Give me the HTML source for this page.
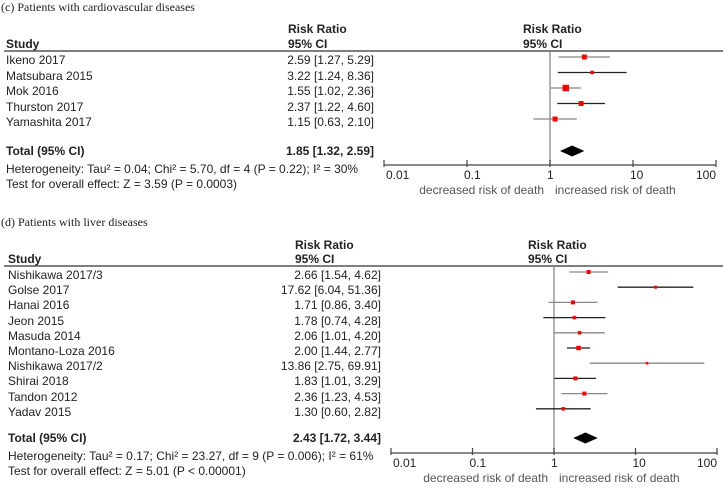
<!DOCTYPE html>
<html><head><meta charset="utf-8"><style>
body{margin:0;background:#fff;}
#root{position:relative;width:723px;height:491px;overflow:hidden;font-family:"Liberation Sans",Arial,sans-serif;color:#222;}
.t{position:absolute;font-size:12px;white-space:nowrap;line-height:12px;}
.b{font-weight:bold;}
.r{text-align:right;}
.ttl{position:absolute;font-family:"Liberation Serif",serif;font-size:12px;white-space:nowrap;}
svg{position:absolute;left:0;top:0;}
</style></head><body>
<div id="root">
<svg id="plot" width="723" height="491"></svg>
</div>
<script>
// Panel C data
const studiesC = ["Ikeno 2017","Matsubara 2015","Mok 2016","Thurston 2017","Yamashita 2017"];
const rrC = [2.59,3.22,1.55,2.37,1.15];
const loC = [1.27,1.24,1.02,1.22,0.63];
const hiC = [5.29,8.36,2.36,4.60,2.10];
const wC = [5,3.5,6.5,5,5];
const totalC = [1.85,1.32,2.59];
// Panel D data
const studiesD = ["Nishikawa 2017/3","Golse 2017","Hanai 2016","Jeon 2015","Masuda 2014","Montano-Loza 2016","Nishikawa 2017/2","Shirai 2018","Tandon 2012","Yadav 2015"];
const rrD = [2.66,17.62,1.71,1.78,2.06,2.00,13.86,1.83,2.36,1.30];
const loD = [1.54,6.04,0.86,0.74,1.01,1.44,2.75,1.01,1.23,0.60];
const hiD = [4.62,51.36,3.40,4.28,4.20,2.77,69.91,3.29,4.53,2.82];
const wD = [4,3,4,3.5,3.5,4.5,2.5,4,4,3.5];
const totalD = [2.43,1.72,3.44];
const ticks = [0.01,0.1,1,10,100];
const tickLabels = ["0.01","0.1","1","10","100"];

const root=document.getElementById('root');
const svg=document.getElementById('plot');
const NS="http://www.w3.org/2000/svg";
function fmt(v){return v.toFixed(2);}
function txt(s,x,y,cls,name,right){
  const d=document.createElement('div');
  d.className='t '+(cls||'');
  d.textContent=s;
  if(right){d.style.right=(723-x)+'px';}else{d.style.left=x+'px';}
  d.style.top=(y-6)+'px';
  
  
  root.appendChild(d);
  return d;
}
function el(tag,attrs,name){
  const e=document.createElementNS(NS,tag);
  for(const k in attrs)e.setAttribute(k,attrs[k]);
  
  
  svg.appendChild(e);return e;
}
function panel(p){
  const xs=v=>p.x0+(Math.log10(v)+2)*(p.x1-p.x0)/4;
  const t=document.createElement('div');t.className='ttl';t.style.left='1px';t.style.top=(p.title_y-7)+'px';t.textContent=p.title;
  
  
  root.appendChild(t);
  txt("Risk Ratio",p.vx-86,p.hy1,'b','value-header');
  txt("95% CI",p.vx-86,p.hy2,'b','value-header-ci');
  txt("Study",p.sx,p.hy2,'b','study-header');
  txt("Risk Ratio",p.rx,p.hy1,'b','plot-header');
  txt("95% CI",p.rx,p.hy2,'b','plot-header-ci');
  el('line',{x1:4,x2:723,y1:p.line,y2:p.line,stroke:'#555','stroke-width':1.5},'header-rule');
  el('line',{x1:xs(1),x2:xs(1),y1:p.line,y2:p.axis,stroke:'#888','stroke-width':1.3},'null-line');
  p.studies.forEach((s,i)=>{
    const y=p.r0+i*p.dy;
    txt(s,p.sx,y+3,'','study-label');
    txt(fmt(p.rr[i])+" ["+fmt(p.lo[i])+", "+fmt(p.hi[i])+"]",p.vx,y+3,'','study-value',true);
    el('line',{x1:xs(p.lo[i]),x2:xs(p.hi[i]),y1:y,y2:y,stroke:i%2?'#222':'#888','stroke-width':1.3},'ci-line');
    const w=p.w[i];
    el('rect',{x:xs(p.rr[i])-w/2,y:y-w/2,width:w,height:w,fill:'#f00'},'study-marker');
  });
  txt("Total (95% CI)",p.sx,p.ty,'b','total-label');
  txt(fmt(p.total[0])+" ["+fmt(p.total[1])+", "+fmt(p.total[2])+"]",p.vx,p.ty,'b','total-value',true);
  const cy=p.ty;
  el('polygon',{points:`${xs(p.total[1])},${cy} ${xs(p.total[0])},${cy-5.5} ${xs(p.total[2])},${cy} ${xs(p.total[0])},${cy+5.5}`,fill:'#000'},'total-diamond');
  txt(p.het,p.sx,p.ty+18,'','heterogeneity-text');
  txt(p.test,p.sx,p.ty+33,'','overall-effect-text');
  el('line',{x1:p.x0,x2:p.x1,y1:p.axis,y2:p.axis,stroke:'#444','stroke-width':1.2},'x-axis');
  ticks.forEach((v,i)=>{
    el('line',{x1:xs(v),x2:xs(v),y1:p.axis-5,y2:p.axis+2,stroke:'#444','stroke-width':1.2},'x-tick');
    const d=txt(tickLabels[i],xs(v)-(i==0?0:i==4?20:3),p.axis+10,'','x-tick-label');
    if(i==0)d.style.left=(xs(v)+2)+'px';
  });
  const d1=txt("decreased risk of death",xs(1)-6,p.axis+25,'','decreased-label',true);d1.style.color='#555';
  const d2=txt("increased risk of death",xs(1)+5,p.axis+25,'','increased-label');d2.style.color='#555';
}
panel({title:"(c) Patients with cardiovascular diseases",title_y:7,hy1:29,hy2:44,line:51,sx:6,vx:374,rx:523,
 studies:studiesC,rr:rrC,lo:loC,hi:hiC,w:wC,total:totalC,r0:57,dy:15.5,ty:151,axis:165,x0:384,x1:716,
 het:"Heterogeneity: Tau² = 0.04; Chi² = 5.70, df = 4 (P = 0.22); I² = 30%",test:"Test for overall effect: Z = 3.59 (P = 0.0003)"});
panel({title:"(d) Patients with liver diseases",title_y:222,hy1:245,hy2:259,line:266,sx:8,vx:381,rx:528,
 studies:studiesD,rr:rrD,lo:loD,hi:hiD,w:wD,total:totalD,r0:272,dy:15.2,ty:438,axis:453,x0:391,x1:717,
 het:"Heterogeneity: Tau² = 0.17; Chi² = 23.27, df = 9 (P = 0.006); I² = 61%",test:"Test for overall effect: Z = 5.01 (P < 0.00001)"});
</script>
</body></html>
